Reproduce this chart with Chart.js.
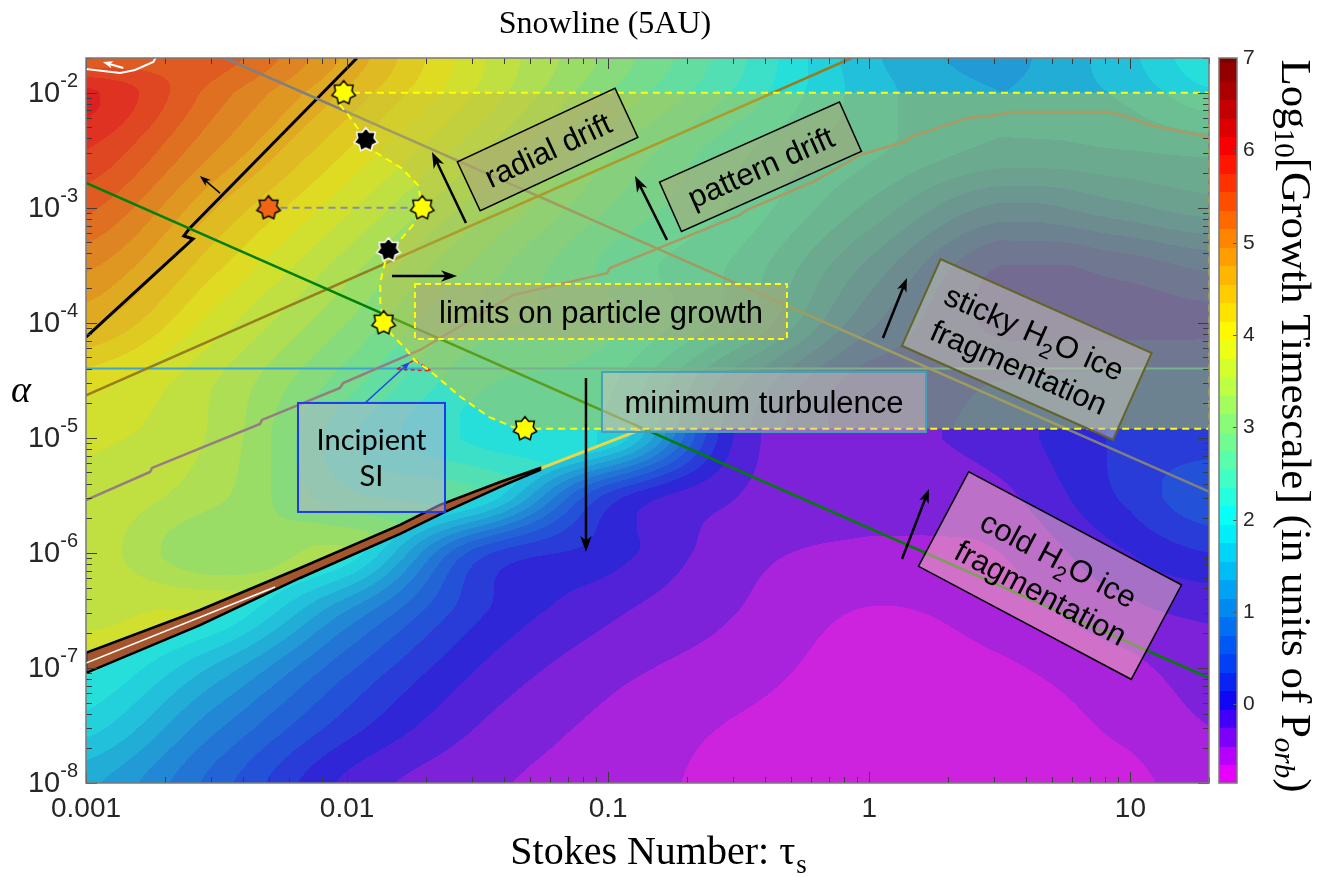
<!DOCTYPE html>
<html>
<head>
<meta charset="utf-8">
<script src="https://cdn.jsdelivr.net/npm/chart.js@4.4.1/dist/chart.umd.min.js"></script>
<style>
  html, body { margin: 0; padding: 0; background: #ffffff; }
  canvas { display: block; }
</style>
</head>
<body>
<canvas id="map" width="1335" height="877" style="width:1335px;height:877px"></canvas>
<script>
// ---------------------------------------------------------------------------
// Growth-timescale map, log10(t_grow / P_orb), on a log(tau) x log(alpha) grid.
// The map is discontinuous across the streaming-instability ridge and the
// minimum-turbulence floor, so it is kept as two sheets: one valid above the
// split line and one valid below it.
// ---------------------------------------------------------------------------
const gridLogTau   = [-3, -2.5, -2, -1.5, -1, -0.5, 0, 0.5, 1, 1.3];
const gridLogAlpha = [-1.7, -2, -2.5, -3, -3.5, -4, -4.5, -5, -5.5, -6, -6.5, -7, -7.5, -8];
const growthAboveSplit = [
  [5.40, 5.45, 4.70, 3.80, 3.10, 2.40, 1.60, 1.30, 1.70, 2.10],
  [6.00, 5.25, 4.50, 3.72, 2.95, 2.30, 1.65, 1.35, 1.60, 1.90],
  [5.75, 4.95, 4.15, 3.40, 2.60, 2.00, 1.60, 1.30, 1.35, 1.40],
  [5.40, 4.55, 3.80, 3.05, 2.35, 1.90, 1.30, 0.70, 0.90, 1.05],
  [5.00, 4.20, 3.45, 2.70, 2.10, 1.70, 0.90, 0.15, 0.25, 0.40],
  [4.60, 3.85, 3.15, 2.45, 2.20, 1.60, 0.60, 0.10, 0.08, 0.10],
  [4.05, 3.55, 2.85, 2.20, 2.00, 1.00, 0.25, 0.35, 0.40, 0.40],
  [3.80, 3.50, 2.60, 2.10, 1.90, 0.80, 0.25, 0.45, 0.45, 0.45],
  [3.70, 3.40, 2.80, 2.60, 1.90, 0.80, 0.25, 0.45, 0.45, 0.45],
  [3.68, 3.15, 3.40, 2.60, 1.90, 0.80, 0.25, 0.45, 0.45, 0.45],
  [3.70, 3.75, 3.40, 2.60, 1.90, 0.80, 0.25, 0.45, 0.45, 0.45],
  [3.85, 3.75, 3.40, 2.60, 1.90, 0.80, 0.25, 0.45, 0.45, 0.45],
  [3.85, 3.75, 3.40, 2.60, 1.90, 0.80, 0.25, 0.45, 0.45, 0.45],
  [3.85, 3.75, 3.40, 2.60, 1.90, 0.80, 0.25, 0.45, 0.45, 0.45]
];
const growthBelowSplit = [
  [3.20, 3.00, 2.70, 2.40, 2.20, -0.10, -0.30, -0.15, 0.20, 0.25],
  [3.20, 3.00, 2.70, 2.40, 2.20, -0.10, -0.30, -0.15, 0.20, 0.25],
  [3.20, 3.00, 2.70, 2.40, 2.20, -0.10, -0.30, -0.15, 0.20, 0.25],
  [3.20, 3.00, 2.70, 2.40, 2.20, -0.10, -0.30, -0.15, 0.20, 0.25],
  [3.20, 3.00, 2.70, 2.40, 2.20, -0.10, -0.30, -0.15, 0.20, 0.25],
  [3.20, 3.00, 2.70, 2.40, 2.20, -0.10, -0.30, -0.15, 0.20, 0.25],
  [3.20, 3.00, 2.70, 2.40, 2.20, -0.10, -0.30, -0.15, 0.20, 0.25],
  [3.00, 2.80, 2.50, 2.20, 2.00, -0.10, -0.30, -0.15, 0.20, 0.25],
  [2.80, 2.60, 2.30, 2.00, 0.30, -0.25, -0.40, -0.30, 0.20, 0.50],
  [2.60, 2.40, 2.10, 0.45, 0.05, -0.38, -0.48, -0.45, -0.05, 0.15],
  [2.40, 2.20, 1.15, 0.20, -0.20, -0.45, -0.66, -0.55, -0.30, -0.20],
  [2.20, 1.50, 0.60, -0.05, -0.38, -0.55, -0.75, -0.68, -0.50, -0.35],
  [1.85, 1.00, 0.25, -0.25, -0.50, -0.67, -0.80, -0.78, -0.60, -0.45],
  [1.40, 0.65, -0.10, -0.40, -0.55, -0.72, -0.80, -0.80, -0.70, -0.55]
];
// split line: SI ridge, its faint tail, then the minimum-turbulence floor
const splitTau = [0.001, 0.0548, 0.1324, 20];
const splitAlpha = [1.1e-7, 5.4e-6, 1.2e-5, 1.2e-5];

// colour scale
const cbMin = -0.85, cbMax = 7, cbStep = 0.2;
const cmapLevels = [-0.85, -0.5, 0, 0.5, 1, 1.5, 2, 2.5, 3, 3.5, 4, 4.5, 5, 5.5, 6, 6.5, 7];
const cmapRGB = [
  [255, 0, 255], [170, 0, 250], [20, 0, 245], [0, 70, 245], [0, 130, 240], [0, 195, 245],
  [0, 255, 255], [70, 255, 190], [130, 250, 125], [195, 255, 60], [255, 255, 0], [255, 200, 0],
  [255, 140, 0], [255, 70, 0], [255, 0, 0], [190, 0, 0], [128, 0, 0]
];
const cbTickValues = [0, 1, 2, 3, 4, 5, 6, 7];

// axes
const tauMin = 0.001, tauMax = 20, alphaMin = 1e-8, alphaMax = 2e-2;
const xTickValues = [0.001, 0.01, 0.1, 1, 10];
const xTickLabels = ['0.001', '0.01', '0.1', '1', '10'];
const yTickValues = [1e-8, 1e-7, 1e-6, 1e-5, 1e-4, 1e-3, 1e-2];
const yTickExponents = ['-8', '-7', '-6', '-5', '-4', '-3', '-2'];

// limit curves
const radialDriftTau = [0.001, 0.86];
const radialDriftAlpha = [2.34e-5, 0.0201];
const stickyFragTau = [0.0034, 20];
const stickyFragAlpha = [0.02, 3.4e-6];
const coldFragTau = [0.001, 20];
const coldFragAlpha = [1.64e-3, 8.2e-8];
const minTurbTau = [0.001, 20];
const minTurbAlpha = [4e-5, 4e-5];
const settlingTau = [0.001, 0.00257, 0.00237, 0.00248, 0.01091];
const settlingAlpha = [7.51e-5, 5.35e-4, 5.68e-4, 6.53e-4, 0.02];
const patternDriftTau = [0.001, 0.001758, 0.00179, 0.004638, 0.00472, 0.00939, 0.00965, 0.01902, 0.04318,
  0.0989, 0.1016, 0.3197, 0.3401, 0.5929, 0.6088, 0.9213, 1.394, 1.432, 1.984, 2.367, 2.900, 3.551,
  8.356, 9.97, 11.89, 15.9, 20];
const patternDriftAlpha = [2.88e-6, 5.05e-6, 5.47e-6, 1.32e-5, 1.43e-5, 2.71e-5, 2.99e-5, 5.80e-5, 1.74e-4,
  2.70e-4, 2.99e-4, 8.65e-4, 9.59e-4, 1.64e-3, 1.67e-3, 2.87e-3, 3.80e-3, 4.12e-3, 5.24e-3, 6.03e-3, 6.27e-3,
  6.79e-3, 6.79e-3, 6.03e-3, 5.24e-3, 4.55e-3, 4.12e-3];

// growth-limit envelope (dashed yellow region)
const envelopeTau = [0.0097, 0.0094, 0.0101, 0.0118, 0.0128, 0.0162, 0.0187, 0.0194, 0.0179, 0.0157, 0.0144,
  0.0140, 0.0134, 0.0134, 0.0138, 0.0149, 0.0167, 0.0182, 0.0208, 0.0270, 0.0349, 0.0447, 0.048, 20, 20, 0.0097];
const envelopeAlpha = [1.0e-2, 7.8e-3, 6.4e-3, 3.9e-3, 3.05e-3, 2.2e-3, 1.57e-3, 1.0e-3, 7.1e-4, 5.0e-4, 4.3e-4,
  3.4e-4, 2.26e-4, 1.51e-4, 1.0e-4, 7.8e-5, 6.0e-5, 4.7e-5, 3.8e-5, 2.3e-5, 1.52e-5, 1.2e-5, 1.2e-5, 1.2e-5, 1.0e-2, 1.0e-2];

// streaming-instability sliver
const ridgeTau = [0.001, 0.002733, 0.006607, 0.01595, 0.02269, 0.03852, 0.05481, 0.05481, 0.03852, 0.02372,
  0.01595, 0.006607, 0.002733, 0.001, 0.001];
const ridgeAlpha = [1.35e-7, 3.19e-7, 7.39e-7, 1.75e-6, 2.61e-6, 4.13e-6, 5.47e-6, 5.25e-6, 3.74e-6, 2.27e-6,
  1.46e-6, 6.05e-7, 2.36e-7, 9.04e-8, 1.35e-7];
const ridgeCoreTau = [0.001, 0.0053];
const ridgeCoreAlpha = [1.10e-7, 5.05e-7];
const ridgeTailTau = [0.0548, 0.1324];
const ridgeTailAlpha = [5.4e-6, 1.17e-5];
const incipientTau = [0.01553, 0.01820, 0.02096, 0.01553];
const incipientAlpha = [3.96e-5, 4.75e-5, 3.81e-5, 3.96e-5];
const topContourTau = [0.001, 0.00135, 0.00154, 0.00181, 0.00185];
const topContourAlpha = [0.01605, 0.01482, 0.01574, 0.01846, 0.0201];

// growth pathway markers
const yellowStarTau = [0.0097, 0.0194, 0.0138, 0.048];
const yellowStarAlpha = [1.0e-2, 1.0e-3, 1.0e-4, 1.2e-5];
const blackStarTau = [0.0118, 0.0144];
const blackStarAlpha = [3.9e-3, 4.3e-4];
const orangeStarTau = [0.005];
const orangeStarAlpha = [1.0e-3];
const bridgeTau = [0.005, 0.0194];
const bridgeAlpha = [1.0e-3, 1.0e-3];

// annotations (anchored in data coordinates)
const SANS = '"Liberation Sans", Arial, Helvetica, sans-serif';
const SERIF = '"Liberation Serif", "Times New Roman", Times, serif';
const OLIVE_FILL = 'rgba(172,166,120,0.55)';
const labelBoxes = [
  { tau: 0.0586, alpha: 3.2e-3, angle: -25, w: 174, h: 54, fill: OLIVE_FILL, stroke: '#000', lw: 1.5,
    font: SANS, size: 31, lines: [[['radial drift']]] },
  { tau: 0.383, alpha: 2.27e-3, angle: -24, w: 197, h: 54, fill: OLIVE_FILL, stroke: '#000', lw: 1.5,
    font: SANS, size: 31, lines: [[['pattern drift']]] },
  { tau: 0.0938, alpha: 1.25e-4, angle: 0, w: 372, h: 55, fill: OLIVE_FILL, stroke: '#ffff00', lw: 2, dash: [6, 4],
    font: SANS, size: 31, lines: [[['limits on particle growth']]] },
  { tau: 0.395, alpha: 2.05e-5, angle: 0, w: 324, h: 60, fill: 'rgba(215,195,200,0.45)', stroke: 'rgb(70,160,185)', lw: 2,
    font: SANS, size: 31, lines: [[['minimum turbulence']]] },
  { tau: 4.01, alpha: 5.86e-5, angle: 24, w: 231, h: 95, fill: 'rgba(200,195,185,0.5)', stroke: 'rgb(100,100,40)', lw: 2,
    font: SANS, size: 31, lines: [[['sticky H'], ['2', 1], ['O ice']], [['fragmentation']]] },
  { tau: 4.92, alpha: 6.35e-7, angle: 28, w: 241, h: 107, fill: 'rgba(250,190,180,0.5)', stroke: '#000', lw: 1.5,
    font: SANS, size: 31, lines: [[['cold H'], ['2', 1], ['O ice']], [['fragmentation']]] },
  { tau: 0.0124, alpha: 6.75e-6, angle: 0, w: 147, h: 109, fill: 'rgba(180,175,215,0.5)', stroke: 'rgb(30,60,230)', lw: 2,
    font: 'Lato, "Open Sans", sans-serif', size: 29, lines: [[['Incipient']], [['SI']]] }
];
const arrows = [
  { from: [0.02853, 7.36e-4], to: [0.02114, 3.05e-3], color: '#000', lw: 2.5, head: 16 },
  { from: [0.1680, 5.24e-4], to: [0.1267, 1.89e-3], color: '#000', lw: 2.5, head: 16 },
  { from: [1.128, 7.37e-5], to: [1.394, 2.45e-4], color: '#000', lw: 2.5, head: 14 },
  { from: [1.334, 8.85e-7], to: [1.693, 3.59e-6], color: '#000', lw: 2.5, head: 14 },
  { from: [0.01486, 2.55e-4], to: [0.02636, 2.55e-4], color: '#000', lw: 2.5, head: 16 },
  { from: [0.0822, 3.31e-5], to: [0.0822, 1.017e-6], color: '#000', lw: 2.5, head: 16 },
  { from: [0.00326, 1.34e-3], to: [0.00273, 1.89e-3], color: '#000', lw: 1.5, head: 11 },
  { from: [0.00139, 0.01637], to: [0.00116, 0.01846], color: '#fff', lw: 2, head: 10 },
  { from: [0.01171, 2.01e-5], to: [0.01741, 4.56e-5], color: 'rgb(30,70,235)', lw: 1.5, head: 10 }
];

// ---------------------------------------------------------------------------
function pts(xs, ys) { return xs.map((t, i) => ({ x: t, y: ys[i] })); }

function colourAt(v) {
  if (v <= cmapLevels[0]) return cmapRGB[0];
  for (let i = 0; i < cmapLevels.length - 1; i++) {
    if (v <= cmapLevels[i + 1]) {
      const t = (v - cmapLevels[i]) / (cmapLevels[i + 1] - cmapLevels[i]);
      const a = cmapRGB[i], b = cmapRGB[i + 1];
      return [a[0] + (b[0] - a[0]) * t, a[1] + (b[1] - a[1]) * t, a[2] + (b[2] - a[2]) * t];
    }
  }
  return cmapRGB[cmapRGB.length - 1];
}
function bandValue(v) {
  const k = Math.floor((v - cbMin) / cbStep);
  return Math.min(cbMax, cbMin + (k + 0.5) * cbStep);
}
function fracIndex(arr, v) {
  const asc = arr[arr.length - 1] > arr[0];
  const n = arr.length;
  if (asc ? v <= arr[0] : v >= arr[0]) return 0;
  if (asc ? v >= arr[n - 1] : v <= arr[n - 1]) return n - 1;
  for (let i = 0; i < n - 1; i++) {
    const a = arr[i], b = arr[i + 1];
    if (asc ? (v >= a && v <= b) : (v <= a && v >= b)) return i + (v - a) / (b - a);
  }
  return n - 1;
}
function cr(p0, p1, p2, p3, t) {
  const v = p1 + 0.5 * t * (p2 - p0 + t * (2 * p0 - 5 * p1 + 4 * p2 - p3 + t * (3 * (p1 - p2) + p3 - p0)));
  const lo = Math.min(p1, p2), hi = Math.max(p1, p2);
  return Math.max(lo, Math.min(hi, v));
}
function sampleGrid(grid, fx, fy) {
  const nx = gridLogTau.length, ny = gridLogAlpha.length;
  const ix = Math.min(Math.floor(fx), nx - 2), iy = Math.min(Math.floor(fy), ny - 2);
  const tx = fx - ix, ty = fy - iy;
  const c = k => Math.max(0, Math.min(nx - 1, k));
  const r = k => Math.max(0, Math.min(ny - 1, k));
  const rowVals = [];
  for (let m = -1; m <= 2; m++) {
    const R = grid[r(iy + m)];
    rowVals.push(cr(R[c(ix - 1)], R[c(ix)], R[c(ix + 1)], R[c(ix + 2)], tx));
  }
  return cr(rowVals[0], rowVals[1], rowVals[2], rowVals[3], ty);
}
function splitLogAlpha(u) {
  const lu = splitTau.map(Math.log10), lv = splitAlpha.map(Math.log10);
  if (u <= lu[0]) return lv[0];
  for (let i = 0; i < lu.length - 1; i++) {
    if (u <= lu[i + 1]) return lv[i] + (lv[i + 1] - lv[i]) * (u - lu[i]) / (lu[i + 1] - lu[i]);
  }
  return lv[lv.length - 1];
}

// filled-contour map under every curve
const fieldPlugin = {
  id: 'growthField',
  beforeDatasetsDraw(chart) {
    const { ctx, chartArea: a, scales: { x, y } } = chart;
    const L = Math.round(a.left), T = Math.round(a.top);
    const W = Math.round(a.right) - L, H = Math.round(a.bottom) - T;
    const img = ctx.createImageData(W, H);
    const fx = new Float32Array(W), fy = new Float32Array(H), sy = new Float32Array(W);
    for (let i = 0; i < W; i++) {
      const u = Math.log10(x.getValueForPixel(L + i + 0.5));
      fx[i] = fracIndex(gridLogTau, u);
      sy[i] = y.getPixelForValue(Math.pow(10, splitLogAlpha(u)));
    }
    for (let j = 0; j < H; j++) fy[j] = fracIndex(gridLogAlpha, Math.log10(y.getValueForPixel(T + j + 0.5)));
    const lut = new Map();
    for (let j = 0; j < H; j++) {
      const py = T + j + 0.5;
      for (let i = 0; i < W; i++) {
        const grid = py > sy[i] ? growthBelowSplit : growthAboveSplit;
        const bv = bandValue(sampleGrid(grid, fx[i], fy[j]));
        let col = lut.get(bv);
        if (!col) {
          const c = colourAt(bv);
          col = [c[0] * 0.74 + 34, c[1] * 0.74 + 34, c[2] * 0.74 + 34];
          lut.set(bv, col);
        }
        const p = (j * W + i) * 4;
        img.data[p] = col[0]; img.data[p + 1] = col[1]; img.data[p + 2] = col[2]; img.data[p + 3] = 255;
      }
    }
    ctx.putImageData(img, L, T);
  }
};

function drawRich(ctx, segs, x, y, baseFont, size) {
  const parts = segs.map(s => ({ t: s[0], sub: !!s[1] }));
  let w = 0;
  for (const p of parts) {
    ctx.font = (p.sub ? Math.round(size * 0.68) : size) + 'px ' + baseFont;
    p.w = ctx.measureText(p.t).width; w += p.w;
  }
  let cx = x - w / 2;
  ctx.textAlign = 'left';
  for (const p of parts) {
    ctx.font = (p.sub ? Math.round(size * 0.68) : size) + 'px ' + baseFont;
    ctx.fillText(p.t, cx, y + (p.sub ? size * 0.28 : 0));
    cx += p.w;
  }
}

function drawLabelBox(ctx, cx, cy, L) {
  ctx.save();
  ctx.translate(cx, cy);
  ctx.rotate(L.angle * Math.PI / 180);
  ctx.fillStyle = L.fill;
  ctx.fillRect(-L.w / 2, -L.h / 2, L.w, L.h);
  ctx.strokeStyle = L.stroke; ctx.lineWidth = L.lw;
  ctx.setLineDash(L.dash || []);
  ctx.strokeRect(-L.w / 2, -L.h / 2, L.w, L.h);
  ctx.setLineDash([]);
  ctx.fillStyle = '#000';
  ctx.textBaseline = 'alphabetic';
  const n = L.lines.length, lh = L.size * 1.22;
  for (let k = 0; k < n; k++) {
    const yy = (k - (n - 1) / 2) * lh + L.size * 0.36;
    drawRich(ctx, L.lines[k], 0, yy, L.font, L.size);
  }
  ctx.restore();
}

function drawArrow(ctx, x1, y1, x2, y2, A) {
  const ang = Math.atan2(y2 - y1, x2 - x1);
  const hl = A.head, hw = A.head * 0.36;
  ctx.save();
  ctx.strokeStyle = A.color; ctx.fillStyle = A.color; ctx.lineWidth = A.lw; ctx.lineCap = 'butt';
  ctx.beginPath();
  ctx.moveTo(x1, y1);
  ctx.lineTo(x2 - Math.cos(ang) * hl * 0.7, y2 - Math.sin(ang) * hl * 0.7);
  ctx.stroke();
  ctx.translate(x2, y2); ctx.rotate(ang);
  ctx.beginPath();
  ctx.moveTo(0, 0);
  ctx.lineTo(-hl, -hw);
  ctx.lineTo(-hl * 0.72, 0);
  ctx.lineTo(-hl, hw);
  ctx.closePath();
  ctx.fill();
  ctx.restore();
}

// axes decoration, annotations, colour bar and titles
const decorPlugin = {
  id: 'decor',
  afterDatasetsDraw(chart) {
    const { ctx, chartArea: a, scales: { x, y, cb } } = chart;
    const X = t => x.getPixelForValue(t), Y = v => y.getPixelForValue(v);

    ctx.save();
    ctx.beginPath(); ctx.rect(a.left, a.top, a.right - a.left, a.bottom - a.top); ctx.clip();
    for (const L of labelBoxes) drawLabelBox(ctx, X(L.tau), Y(L.alpha), L);
    for (const A of arrows) drawArrow(ctx, X(A.from[0]), Y(A.from[1]), X(A.to[0]), Y(A.to[1]), A);
    ctx.restore();

    // inward ticks on all four sides
    ctx.save();
    ctx.strokeStyle = '#3c3c3c'; ctx.lineWidth = 1;
    const seg = (x1, y1, x2, y2) => { ctx.beginPath(); ctx.moveTo(x1, y1); ctx.lineTo(x2, y2); ctx.stroke(); };
    for (let d = -3; d <= 1; d++) {
      for (let k = 1; k <= 9; k++) {
        const v = k * Math.pow(10, d);
        if (v < tauMin * 0.999 || v > tauMax) continue;
        const px = Math.round(X(v)) + 0.5, len = k === 1 ? 11 : 6;
        seg(px, a.bottom, px, a.bottom - len);
        seg(px, a.top, px, a.top + len);
      }
    }
    for (let d = -8; d <= -2; d++) {
      for (let k = 1; k <= 9; k++) {
        const v = k * Math.pow(10, d);
        if (v < alphaMin * 0.999 || v > alphaMax * 1.0001) continue;
        const py = Math.round(Y(v)) + 0.5, len = k === 1 ? 11 : 6;
        seg(a.left, py, a.left + len, py);
        seg(a.right, py, a.right - len, py);
      }
    }
    ctx.strokeStyle = '#7a7a7a'; ctx.lineWidth = 1.5;
    ctx.strokeRect(a.left, a.top, a.right - a.left, a.bottom - a.top);

    // tick labels
    ctx.fillStyle = '#262626';
    ctx.textBaseline = 'alphabetic';
    ctx.font = '28px ' + SANS; ctx.textAlign = 'center';
    xTickValues.forEach((v, i) => ctx.fillText(xTickLabels[i], X(v), 817));
    yTickValues.forEach((v, i) => {
      const py = Y(v);
      ctx.font = '20px ' + SANS;
      const ws = ctx.measureText(yTickExponents[i]).width;
      ctx.textAlign = 'right';
      ctx.fillText(yTickExponents[i], 78, py - 6);
      ctx.font = '29px ' + SANS;
      ctx.fillText('10', 78 - ws, py + 9);
    });

    // colour bar
    const bx = a.right + 10, bw = 18;
    for (let v0 = cbMin; v0 < cbMax - 1e-9; v0 += cbStep) {
      const v1 = Math.min(cbMax, v0 + cbStep);
      const c = colourAt(bandValue(v0 + 1e-6));
      ctx.fillStyle = 'rgb(' + c.map(Math.round).join(',') + ')';
      const yt = cb.getPixelForValue(v1), yb = cb.getPixelForValue(v0);
      ctx.fillRect(bx, Math.floor(yt), bw, Math.ceil(yb) - Math.floor(yt));
    }
    ctx.strokeStyle = '#555'; ctx.lineWidth = 1;
    cbTickValues.forEach(v => {
      const py = Math.round(cb.getPixelForValue(v)) + 0.5;
      seg(bx + bw, py, bx + bw - 4, py);
    });
    ctx.strokeStyle = '#7a7a7a'; ctx.lineWidth = 1.5;
    ctx.strokeRect(bx, cb.top, bw, cb.bottom - cb.top);
    ctx.fillStyle = '#262626'; ctx.font = '21px ' + SANS; ctx.textAlign = 'left'; ctx.textBaseline = 'middle';
    cbTickValues.forEach(v => ctx.fillText(String(v), bx + bw + 6, cb.getPixelForValue(v)));

    // colour-bar title (rotated, reads downward)
    ctx.save();
    ctx.translate(1293, 426); ctx.rotate(Math.PI / 2);
    ctx.fillStyle = '#000'; ctx.textBaseline = 'middle';
    const big = 43, small = 29;
    const parts = [
      { t: 'Log', f: big + 'px ' + SERIF, dy: 0 },
      { t: '10', f: small + 'px ' + SERIF, dy: 10 },
      { t: '[Growth Timescale] (in units of P', f: big + 'px ' + SERIF, dy: 0 },
      { t: 'orb', f: 'italic ' + small + 'px ' + SERIF, dy: 10 },
      { t: ')', f: big + 'px ' + SERIF, dy: 0 }
    ];
    let tw = 0;
    for (const p of parts) { ctx.font = p.f; p.w = ctx.measureText(p.t).width; tw += p.w; }
    let cx = -tw / 2; ctx.textAlign = 'left';
    for (const p of parts) { ctx.font = p.f; ctx.fillText(p.t, cx, p.dy); cx += p.w; }
    ctx.restore();

    // axis titles
    ctx.fillStyle = '#000'; ctx.textBaseline = 'alphabetic';
    ctx.font = '32px ' + SERIF; ctx.textAlign = 'center';
    ctx.fillText('Snowline (5AU)', 605, 33);
    ctx.font = '40px ' + SERIF; ctx.textAlign = 'left';
    const xt = 'Stokes Number: \u03c4';
    const xw = ctx.measureText(xt).width;
    ctx.font = '27px ' + SERIF; const sw = ctx.measureText('s').width;
    ctx.font = '40px ' + SERIF;
    const x0 = 658 - (xw + sw) / 2;
    ctx.fillText(xt, x0, 864);
    ctx.font = '27px ' + SERIF;
    ctx.fillText('s', x0 + xw + 1, 873);
    ctx.font = 'italic 38px ' + SERIF; ctx.textAlign = 'center';
    ctx.fillText('\u03b1', 21, 402);
    ctx.restore();
  }
};

// 7-pointed star markers
function starImage(fill, stroke, r) {
  const s = Math.ceil(r * 2 + 4);
  const c = document.createElement('canvas'); c.width = s; c.height = s;
  const g = c.getContext('2d');
  g.beginPath();
  for (let k = 0; k < 14; k++) {
    const ang = -Math.PI / 2 + k * Math.PI / 7;
    const rr = k % 2 === 0 ? r : r * 0.7;
    g.lineTo(s / 2 + rr * Math.cos(ang), s / 2 + rr * Math.sin(ang));
  }
  g.closePath();
  g.fillStyle = fill; g.fill();
  g.lineWidth = 1.5; g.strokeStyle = stroke; g.stroke();
  return c;
}

const lineDS = (label, xs, ys, color, width, order, extra) => Object.assign({
  label, data: pts(xs, ys), showLine: true, borderColor: color, borderWidth: width,
  pointRadius: 0, fill: false, tension: 0, order
}, extra || {});

new Chart(document.getElementById('map'), {
  type: 'scatter',
  data: {
    datasets: [
      { label: 'yellow stars', data: pts(yellowStarTau, yellowStarAlpha), pointStyle: starImage('#ffff00', '#000', 12), pointRadius: 12, order: 0 },
      { label: 'black stars', data: pts(blackStarTau, blackStarAlpha), pointStyle: starImage('#000', '#fff', 12), pointRadius: 12, order: 0 },
      { label: 'orange star', data: pts(orangeStarTau, orangeStarAlpha), pointStyle: starImage('rgb(240,100,20)', '#000', 12), pointRadius: 12, order: 0 },
      lineDS('envelope edge', envelopeTau, envelopeAlpha, '#ffff00', 2, 1, { borderDash: [7, 5] }),
      lineDS('bridge', bridgeTau, bridgeAlpha, 'rgb(140,140,160)', 2, 2, { borderDash: [7, 5] }),
      lineDS('incipient SI', incipientTau, incipientAlpha, 'rgb(230,30,30)', 1.5, 3, { borderDash: [4, 3] }),
      lineDS('envelope shade', envelopeTau, envelopeAlpha, 'rgba(0,0,0,0)', 0, 4, { fill: 'shape', backgroundColor: 'rgba(200,190,60,0.45)' }),
      lineDS('cold H2O fragmentation', coldFragTau, coldFragAlpha, 'rgb(0,128,0)', 2.5, 5),
      lineDS('radial drift', radialDriftTau, radialDriftAlpha, 'rgb(150,125,30)', 2.5, 6),
      lineDS('sticky H2O fragmentation', stickyFragTau, stickyFragAlpha, 'rgb(128,128,128)', 2.5, 7),
      lineDS('pattern drift', patternDriftTau, patternDriftAlpha, 'rgb(150,125,130)', 2.5, 8),
      lineDS('minimum turbulence', minTurbTau, minTurbAlpha, 'rgb(60,165,210)', 2, 9),
      lineDS('settling limit', settlingTau, settlingAlpha, '#000', 3, 10),
      lineDS('ridge tail', ridgeTailTau, ridgeTailAlpha, 'rgb(235,215,70)', 3, 14),
      lineDS('ridge core', ridgeCoreTau, ridgeCoreAlpha, '#fff', 1.5, 11),
      lineDS('ridge', ridgeTau, ridgeAlpha, '#000', 2.5, 12, { fill: 'shape', backgroundColor: 'rgb(165,85,45)' }),
      lineDS('top contour', topContourTau, topContourAlpha, '#fff', 2, 13)
    ]
  },
  options: {
    responsive: false,
    animation: false,
    devicePixelRatio: 1,
    events: [],
    layout: { padding: { top: 58, left: 0, right: 0, bottom: 0 } },
    plugins: { legend: { display: false }, tooltip: { enabled: false }, filler: { propagate: false } },
    scales: {
      x: { type: 'logarithmic', min: tauMin, max: tauMax, position: 'bottom',
           grid: { display: false }, border: { display: false }, ticks: { display: false },
           afterFit(s) { s.height = 94; } },
      y: { type: 'logarithmic', min: alphaMin, max: alphaMax, position: 'left',
           grid: { display: false }, border: { display: false }, ticks: { display: false },
           afterFit(s) { s.width = 86; } },
      cb: { type: 'linear', min: cbMin, max: cbMax, position: 'right',
            grid: { display: false }, border: { display: false }, ticks: { display: false },
            afterFit(s) { s.width = 126; } }
    }
  },
  plugins: [fieldPlugin, decorPlugin]
});
</script>
</body>
</html>
